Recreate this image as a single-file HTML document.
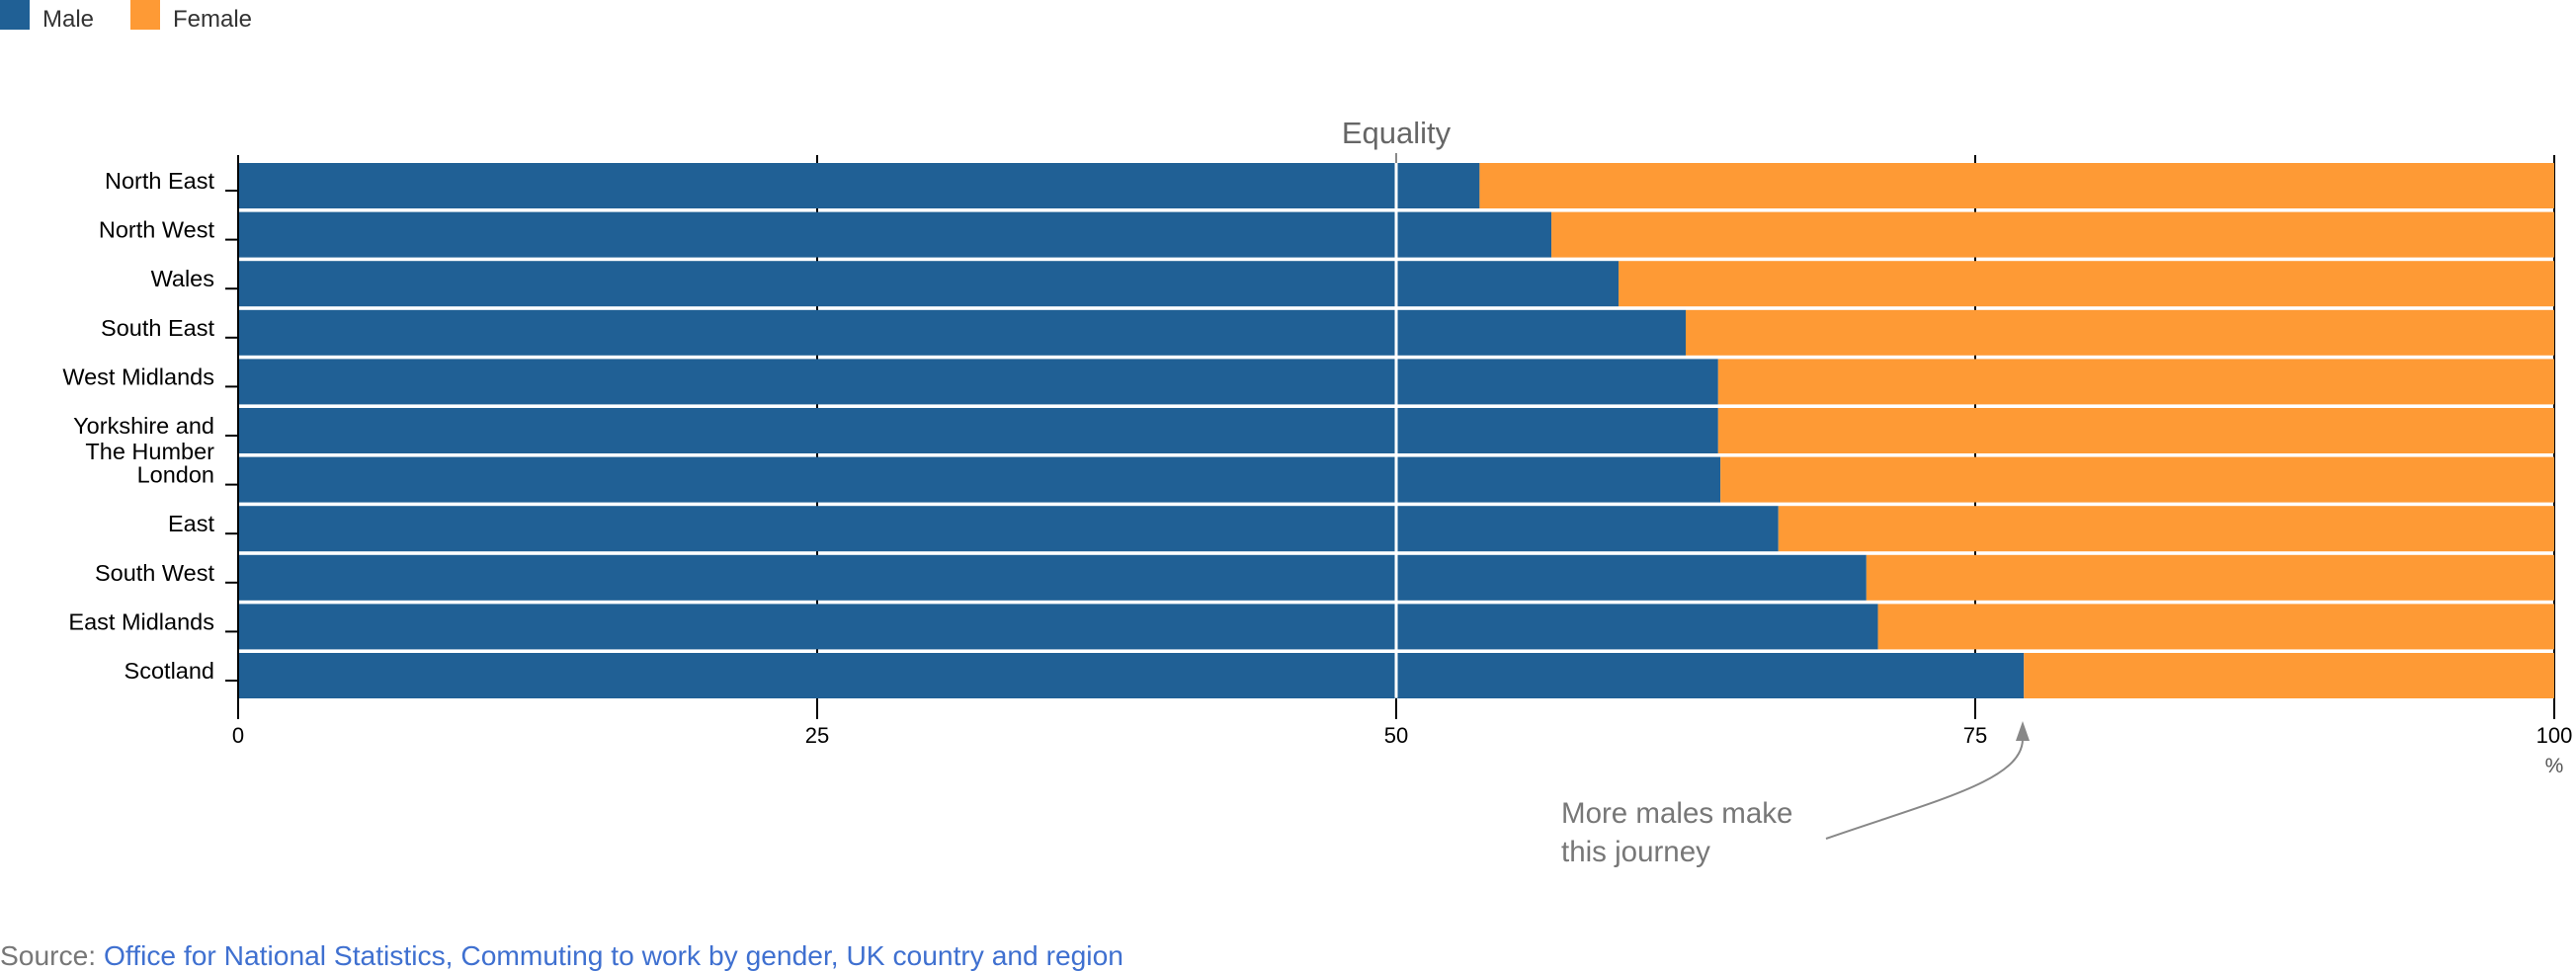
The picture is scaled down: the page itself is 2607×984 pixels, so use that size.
<!DOCTYPE html>
<html><head><meta charset="utf-8"><style>
html,body{margin:0;padding:0;background:#fff;width:2607px;height:984px;overflow:hidden}
svg{display:block}
</style></head><body>
<svg id="chart" width="2607" height="984" xmlns="http://www.w3.org/2000/svg">
<g>
<rect x="0" y="0" width="30" height="30" fill="#206095"/>
<text x="43" y="27" font-family="Liberation Sans, sans-serif" font-size="24" fill="#333">Male</text>
<rect x="132" y="0" width="30" height="30" fill="#fe9a35"/>
<text x="175" y="27" font-family="Liberation Sans, sans-serif" font-size="24" fill="#333">Female</text>
</g>
<g id="grid"></g>
<g id="bars"></g>
<g id="axes"></g>
<text x="1413" y="145" text-anchor="middle" font-family="Liberation Sans, sans-serif" font-size="31" fill="#666">Equality</text>
<text x="2585" y="782" text-anchor="middle" font-family="Liberation Sans, sans-serif" font-size="21" fill="#555">%</text>
<g>
<text font-family="Liberation Sans, sans-serif" font-size="29.5" fill="#777"><tspan x="1580" y="833">More males make</tspan><tspan x="1580" y="872">this journey</tspan></text>
<path d="M1848 849 C1960 810 2047 790 2047 748" fill="none" stroke="#888" stroke-width="2"/>
<polygon points="2047,730 2040,750 2054,750" fill="#888"/>
</g>
<text x="0" y="977" font-family="Liberation Sans, sans-serif" font-size="28.2"><tspan fill="#777">Source: </tspan><tspan fill="#3f70d0">Office for National Statistics, Commuting to work by gender, UK country and region</tspan></text>
</svg>
<script>
const categories = ["North East","North West","Wales","South East","West Midlands","Yorkshire and The Humber","London","East","South West","East Midlands","Scotland"];
const maleValues = [53.6,56.7,59.6,62.5,63.9,63.9,64.0,66.5,70.3,70.8,77.1];
const tickValues = [0,25,50,75,100];
const tickLabels = ["0","25","50","75","100"];
const NS = "http://www.w3.org/2000/svg";
const x0 = 241, x1 = 2585, yTop = 165, pitch = 49.6, barH = 46;
function xScale(v){ return x0 + (x1 - x0) * v / 100; }
function yScale(i){ return yTop + i * pitch; }
function mk(tag, attrs, parent){ const e = document.createElementNS(NS, tag); for (const k in attrs) e.setAttribute(k, attrs[k]); parent.appendChild(e); return e; }
const grid = document.getElementById('grid'), bars = document.getElementById('bars'), axes = document.getElementById('axes');
tickValues.forEach((t, i) => {
  const x = xScale(t);
  const l = mk('line', {x1:x, x2:x, y1:157, y2:728, stroke:'#000', 'stroke-width':2}, grid);
  
  
  const tx = mk('text', {x:x, y:752, 'text-anchor':'middle', 'font-family':'Liberation Sans, sans-serif', 'font-size':22, fill:'#000'}, axes);
  tx.textContent = tickLabels[i];
  
  
});
categories.forEach((c, i) => {
  const y = yScale(i);
  const xm = xScale(maleValues[i]);
  const m = mk('rect', {x:x0, y:y, width:xm - x0, height:barH, fill:'#206095'}, bars);
  
  
  const f = mk('rect', {x:xm, y:y, width:x1 - xm, height:barH, fill:'#fe9a35'}, bars);
  
  
  const tk = mk('line', {x1:228, x2:241, y1:y + 28, y2:y + 28, stroke:'#000', 'stroke-width':2}, axes);
  
  
  const tx = mk('text', {x:217, 'text-anchor':'end', 'font-family':'Liberation Sans, sans-serif', 'font-size':23.5, fill:'#000'}, axes);
  
  
  if (c === "Yorkshire and The Humber") {
    const a = mk('tspan', {x:217, y:y + 26}, tx); a.textContent = "Yorkshire and";
    const b = mk('tspan', {x:217, y:y + 52}, tx); b.textContent = "The Humber";
  } else {
    tx.setAttribute('y', y + 26);
    tx.textContent = c;
  }
});
const ax = mk('line', {x1:x0, x2:x0, y1:157, y2:728, stroke:'#000', 'stroke-width':2}, axes);


const eq = mk('line', {x1:xScale(50), x2:xScale(50), y1:yTop, y2:yScale(categories.length) - 4, stroke:'#fff', 'stroke-width':3}, axes);


const eqTop = mk('line', {x1:xScale(50), x2:xScale(50), y1:155, y2:yTop, stroke:'#888', 'stroke-width':2}, axes);


</script>
</body></html>
